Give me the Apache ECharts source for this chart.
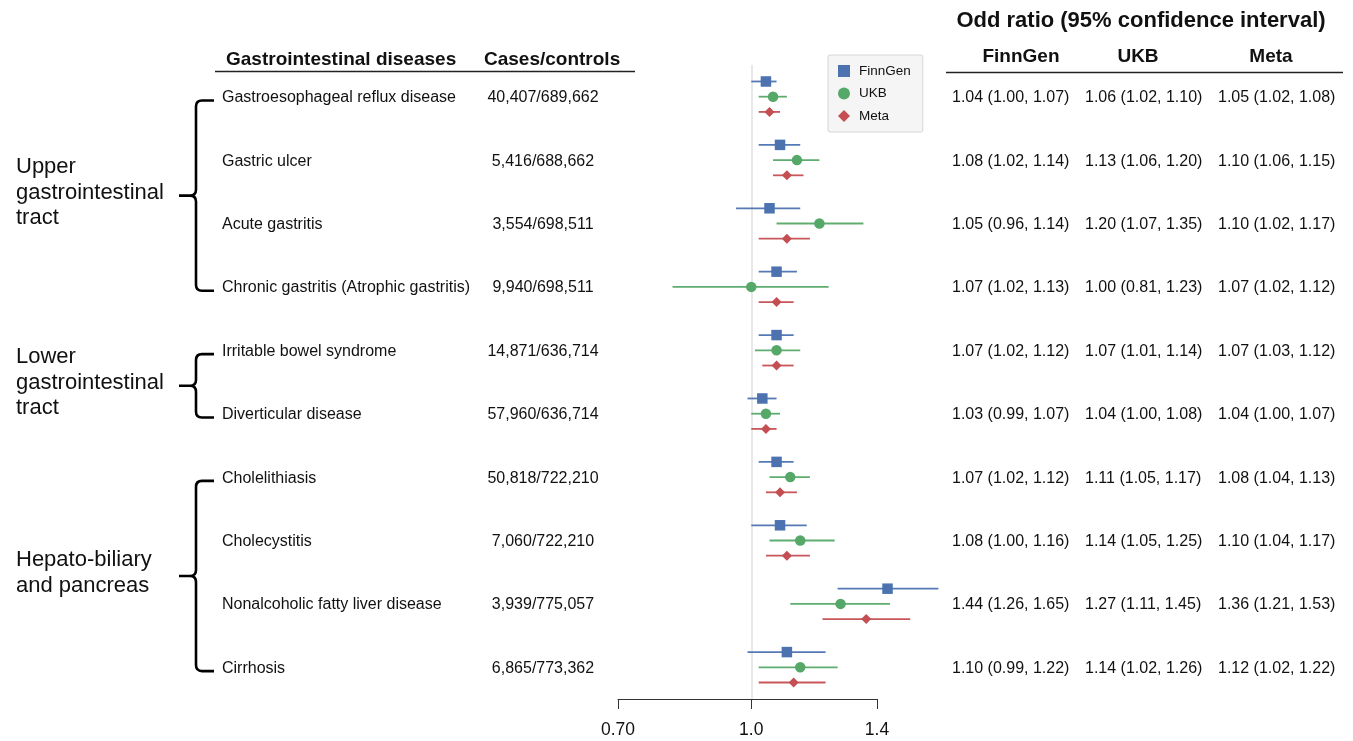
<!DOCTYPE html>
<html><head><meta charset="utf-8">
<script src="https://cdn.jsdelivr.net/npm/echarts@6/dist/echarts.min.js"></script>
<style>html,body{margin:0;padding:0;background:#fff}#c{width:1353px;height:741px}</style>
</head><body><div id="c"></div>
<script>
// ---------------- data ----------------
const diseases = ['Gastroesophageal reflux disease','Gastric ulcer','Acute gastritis','Chronic gastritis (Atrophic gastritis)','Irritable bowel syndrome','Diverticular disease','Cholelithiasis','Cholecystitis','Nonalcoholic fatty liver disease','Cirrhosis'];
const casesControls = ['40,407/689,662','5,416/688,662','3,554/698,511','9,940/698,511','14,871/636,714','57,960/636,714','50,818/722,210','7,060/722,210','3,939/775,057','6,865/773,362'];
const studies = ['FinnGen','UKB','Meta'];
const finngenOR = [1.04,1.08,1.05,1.07,1.07,1.03,1.07,1.08,1.44,1.10];
const finngenLo = [1.00,1.02,0.96,1.02,1.02,0.99,1.02,1.00,1.26,0.99];
const finngenHi = [1.07,1.14,1.14,1.13,1.12,1.07,1.12,1.16,1.65,1.22];
const ukbOR = [1.06,1.13,1.20,1.00,1.07,1.04,1.11,1.14,1.27,1.14];
const ukbLo = [1.02,1.06,1.07,0.81,1.01,1.00,1.05,1.05,1.11,1.02];
const ukbHi = [1.10,1.20,1.35,1.23,1.14,1.08,1.17,1.25,1.45,1.26];
const metaOR = [1.05,1.10,1.10,1.07,1.07,1.04,1.08,1.10,1.36,1.12];
const metaLo = [1.02,1.06,1.02,1.02,1.03,1.00,1.04,1.04,1.21,1.02];
const metaHi = [1.08,1.15,1.17,1.12,1.12,1.07,1.13,1.17,1.53,1.22];
const groupNames = ['Upper\ngastrointestinal\ntract','Lower\ngastrointestinal\ntract','Hepato-biliary\nand pancreas'];
const groupStart = [0,4,6];
const groupEnd = [3,5,9];
const xTickValues = [0.70, 1.0, 1.4];
const xTickLabels = ['0.70','1.0','1.4'];
const titleText = 'Odd ratio (95% confidence interval)';
const leftHeaders = ['Gastrointestinal diseases','Cases/controls'];

// ---------------- styling ----------------
const FF = '"Liberation Sans", Arial, Helvetica, sans-serif';
const colors = ['#4C72B0','#55A868','#C44E52'];
const symbols = ['rect','circle','diamond'];
const symSizes = [10.5,10.5,10];
const offsets = [-0.24, 0, 0.24];
const studyData = [[finngenOR,finngenLo,finngenHi],[ukbOR,ukbLo,ukbHi],[metaOR,metaLo,metaHi]];
const ln = Math.log;
const fmt = (o,l,h)=> o.toFixed(2)+' ('+l.toFixed(2)+', '+h.toFixed(2)+')';
const txt = (text,x,y,font,align,valign,extra)=>Object.assign({type:'text',style:Object.assign({text:text,x:x,y:y,font:font,fill:'#111',textAlign:align,align:align,textVerticalAlign:valign,verticalAlign:valign},extra||{})});

const chart = echarts.init(document.getElementById('c'), null, {renderer:'canvas'});
const rows = diseases.map((d,i)=>i);
const series = [];

// table text (rows)
const orCols = [952, 1085, 1218];
series.push({
  type:'custom', name:'table', clip:false, silent:true,
  data: rows.map(i=>[0,i]), encode:{x:0,y:1},
  renderItem:(params, api)=>{
    const i = api.value(1);
    const y = api.coord([0,i])[1] + 1;
    const f = '16px '+FF;
    const ch = [txt(diseases[i],222,y,f,'left','middle'), txt(casesControls[i],543,y,f,'center','middle')];
    studyData.forEach((sd,k)=>ch.push(txt(fmt(sd[0][i],sd[1][i],sd[2][i]),orCols[k],y,f,'left','middle')));
    return {type:'group',children:ch};
  }
});
// braces + group labels
series.push({
  type:'custom', name:'groups', clip:false, silent:true,
  data: groupNames.map((g,k)=>[0,groupStart[k],groupEnd[k],k]), encode:{x:0,y:[1,2]},
  renderItem:(params, api)=>{
    const k = api.value(3);
    const top = api.coord([0, api.value(1)+0.06])[1];
    const bot = api.coord([0, api.value(2)+0.06])[1];
    const mid = (top+bot)/2;
    const xv = 196, xh = 214, xt = 179, r = 6;
    const d = `M${xh},${top} L${xv+r},${top} Q${xv},${top} ${xv},${top+r} L${xv},${mid-r} Q${xv},${mid} ${xv-r},${mid} L${xt},${mid} M${xv-r},${mid} Q${xv},${mid} ${xv},${mid+r} L${xv},${bot-r} Q${xv},${bot} ${xv+r},${bot} L${xh},${bot}`;
    return {type:'group',children:[
      {type:'path',shape:{pathData:d},style:{fill:'none',stroke:'#000',lineWidth:2.6}},
      txt(groupNames[k],16,mid-3,'22px '+FF,'left','middle',{lineHeight:25.5})
    ]};
  }
});
// error bars and points
studies.forEach((s,k)=>{
  const [o,l,h] = studyData[k];
  series.push({
    type:'custom', name:s+' CI', clip:false, silent:true, z:2,
    data: rows.map(i=>[ln(l[i]), ln(h[i]), i+offsets[k]]), encode:{x:[0,1],y:2},
    renderItem:(params, api)=>{
      const p1 = api.coord([api.value(0), api.value(2)]);
      const p2 = api.coord([api.value(1), api.value(2)]);
      return {type:'line',shape:{x1:p1[0],y1:p1[1],x2:p2[0],y2:p2[1]},style:{stroke:colors[k],lineWidth:1.8,opacity:0.95}};
    }
  });
  const sc = {
    type:'scatter', name:s, clip:false, z:3,
    symbol:symbols[k], symbolSize:symSizes[k],
    itemStyle:{color:colors[k],opacity:1},
    data: rows.map(i=>[ln(o[i]), i+offsets[k]])
  };
  if (k===0) {
    sc.markLine = {silent:true, symbol:'none', label:{show:false}, z:1,
      lineStyle:{color:'#e0e0e0',width:1.5,type:'solid'},
      data:[{xAxis: ln(1.0)}]};
  }
  series.push(sc);
});

const option = {
  animation:false,
  backgroundColor:'#fff',
  textStyle:{fontFamily:FF},
  grid:{left:618, right:476, top:65, bottom:42, outerBoundsMode:'none'},
  xAxis:{
    type:'value', min:ln(xTickValues[0]), max:ln(xTickValues[xTickValues.length-1]),
    axisLine:{show:true,onZero:false,lineStyle:{color:'#333',width:1}},
    axisTick:{show:true,length:10,customValues:xTickValues.map(ln),lineStyle:{color:'#333',width:1}},
    axisLabel:{show:true,customValues:xTickValues.map(ln),margin:22,fontSize:17.5,color:'#111',fontFamily:FF,
      formatter:(v)=>{let b=0,bd=1e9;xTickValues.forEach((t,j)=>{const dd=Math.abs(ln(t)-v);if(dd<bd){bd=dd;b=j;}});return xTickLabels[b];}},
    splitLine:{show:false}
  },
  yAxis:{type:'value', min:-0.5, max:9.5, inverse:true, show:false},
  legend:{
    data: studies.map((s,k)=>({name:s, icon:symbols[k]})),
    orient:'vertical', left:828, top:55,
    itemWidth:12, itemHeight:12, itemGap:8.5,
    padding:[9,12,9,10],
    backgroundColor:'#f5f5f5', borderColor:'#d6d6d6', borderWidth:1, borderRadius:2,
    textStyle:{fontSize:13.5,color:'#111',fontFamily:FF,padding:[0,0,0,4]},
    selectedMode:false
  },
  graphic:[
    txt(titleText,1141,21,'bold 22px '+FF,'center','middle'),
    txt(studies[0],1021,57,'bold 19px '+FF,'center','middle'),
    txt(studies[1],1138,57,'bold 19px '+FF,'center','middle'),
    txt(studies[2],1271,57,'bold 19px '+FF,'center','middle'),
    {type:'line',shape:{x1:946,y1:72.5,x2:1343,y2:72.5},style:{stroke:'#222',lineWidth:1.3}},
    txt(leftHeaders[0],226,60,'bold 19px '+FF,'left','middle'),
    txt(leftHeaders[1],484,60,'bold 19px '+FF,'left','middle'),
    {type:'line',shape:{x1:215,y1:71.5,x2:635,y2:71.5},style:{stroke:'#222',lineWidth:1.3}}
  ],
  series: series
};
chart.setOption(option);
</script></body></html>
